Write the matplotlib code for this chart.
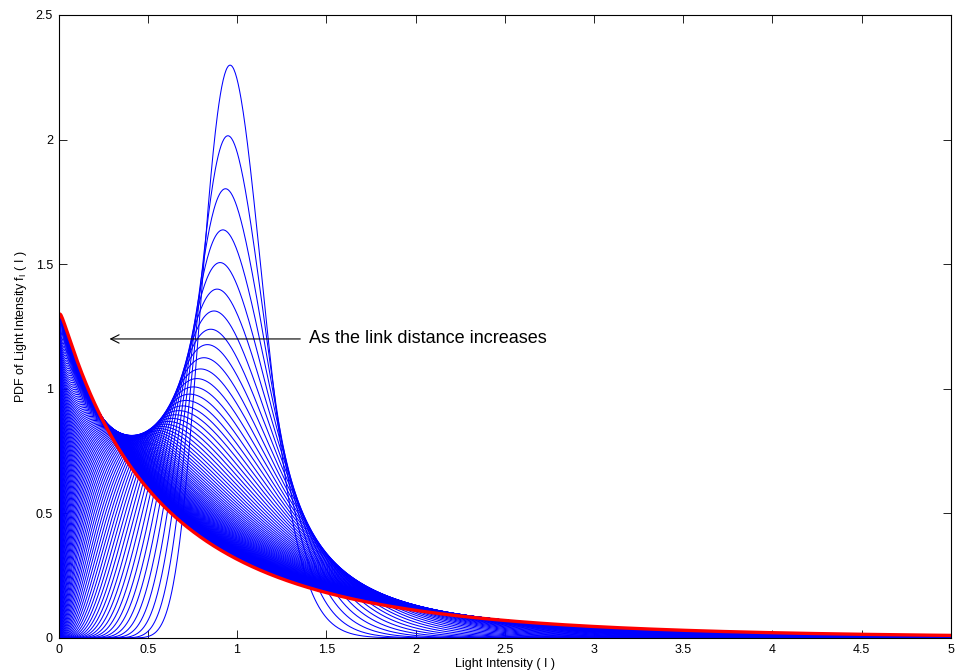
import math
import numpy as np
import matplotlib
matplotlib.use("Agg")
import matplotlib.pyplot as plt

plt.rcParams['font.family'] = ['Liberation Sans', 'DejaVu Sans']
plt.rcParams['mathtext.default'] = 'regular'

# Link and channel set-up (1550 nm beam, moderate-to-strong turbulence)
wavelength = 1550e-9          # m
cn2 = 4.1e-15                 # refractive-index structure constant, m^-2/3
link_km = np.round(np.arange(0.6, 13.85, 0.1), 1)

# Saturation limits of the large-/small-scale scintillation
alpha_far = 3.6
beta_far = 1.01

intensity = np.linspace(0.002, 5.0, 1250)


def rytov_variance(L_km):
    k = 2 * np.pi / wavelength
    L = L_km * 1e3
    return 1.23 * cn2 * k ** (7 / 6) * L ** (11 / 6)


def gamma_gamma_params(s2):
    ax_inv = 1 / alpha_far
    by_inv = 1 / beta_far
    inv_a = ax_inv * (1 - np.exp(-s2 / (2 * ax_inv)))
    inv_b = by_inv * (1 - np.exp(-s2 / (2 * by_inv)))
    return 1 / inv_a, 1 / inv_b


# log K_nu(x) from  K_nu(x) = int_0^inf exp(-x cosh t) cosh(nu t) dt
t = np.linspace(0.0, 12.0, 1201)
dt = t[1] - t[0]
w = np.full(t.size, dt)
w[0] = w[-1] = dt / 2
cosh_t = np.cosh(t)


def log_besselk(nu, x):
    nu = abs(nu)
    lo = -np.outer(x, cosh_t) + nu * t + np.log1p(np.exp(-2 * nu * t)) - np.log(2)
    m = lo.max(axis=1, keepdims=True)
    return m[:, 0] + np.log(np.sum(np.exp(lo - m) * w, axis=1))


def gamma_gamma_pdf(I, a, b):
    x = 2 * np.sqrt(a * b * I)
    logf = (np.log(2) + 0.5 * (a + b) * np.log(a * b)
            - math.lgamma(a) - math.lgamma(b)
            + (0.5 * (a + b) - 1) * np.log(I)
            + log_besselk(a - b, x))
    return np.exp(logf)


alphas, betas = gamma_gamma_params(rytov_variance(link_km))

fig = plt.figure(figsize=(9.55, 6.72), dpi=100)
ax = fig.add_axes([0.0613, 0.0506, 0.9345, 0.9271])

for a, b in zip(alphas[:-1], betas[:-1]):
    ax.plot(intensity, gamma_gamma_pdf(intensity, a, b), color='blue', lw=0.75)
ax.plot(intensity, gamma_gamma_pdf(intensity, alphas[-1], betas[-1]), color='red', lw=2.4)

ax.annotate('', xy=(0.27, 1.2), xytext=(1.37, 1.2),
            arrowprops=dict(arrowstyle='->', color='black', lw=0.8,
                            mutation_scale=15))
ax.text(1.405, 1.2, 'As the link distance increases', fontsize=13,
        ha='left', va='center')

ax.set_xlim(0, 5)
ax.set_ylim(0, 2.5)
ax.set_xticks(np.arange(0, 5.01, 0.5))
ax.set_xticklabels(['0', '0.5', '1', '1.5', '2', '2.5', '3', '3.5', '4', '4.5', '5'])
ax.set_yticks(np.arange(0, 2.51, 0.5))
ax.set_yticklabels(['0', '0.5', '1', '1.5', '2', '2.5'])
ax.tick_params(direction='in', length=6, width=0.6, labelsize=9,
               top=True, right=True, pad=4)
for sp in ax.spines.values():
    sp.set_linewidth(0.8)

ax.set_xlabel('Light Intensity ( I )', fontsize=9, labelpad=2)
ax.set_ylabel('PDF of Light Intensity f$_{I}$ ( I )', fontsize=9, labelpad=5)

fig.savefig('out.png', dpi=100)
